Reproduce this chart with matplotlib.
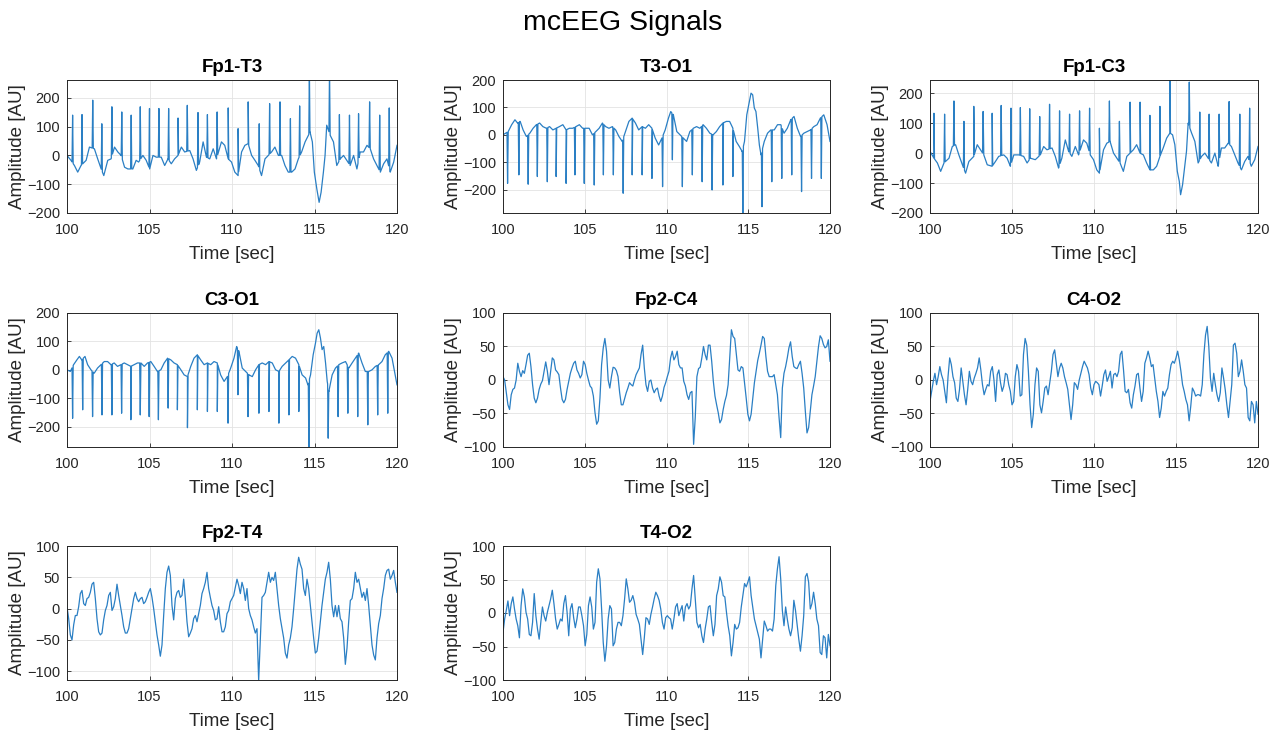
import numpy as np
import matplotlib
matplotlib.use("Agg")
import matplotlib.pyplot as plt

plt.rcParams['font.family'] = ['Liberation Sans', 'DejaVu Sans']

# ---------------- data ----------------
channels = ["Fp1-T3", "T3-O1", "Fp1-C3", "C3-O1", "Fp2-C4", "C4-O2", "Fp2-T4", "T4-O2"]
x_ticks = [100, 105, 110, 115, 120]

# Fp1-T3: slow baseline + sharp positive spikes
fp1t3_base_t = [100.00, 100.24, 100.45, 100.65, 100.85, 101.16, 101.36, 101.66, 101.86, 102.07,
                102.23, 102.47, 102.67, 102.88, 103.08, 103.28, 103.49, 103.69, 103.99, 104.19,
                104.34, 104.60, 104.80, 105.01, 105.21, 105.41, 105.71, 105.92, 106.12, 106.32,
                106.52, 106.73, 106.93, 107.13, 107.44, 107.64, 107.84, 108.04, 108.25, 108.45,
                108.65, 108.86, 109.06, 109.36, 109.56, 109.77, 109.97, 110.17, 110.37, 110.58,
                110.78, 110.98, 111.19, 111.39, 111.59, 111.79, 112.00, 112.20, 112.40, 112.60,
                112.81, 113.01, 113.21, 113.41, 113.62, 113.82, 114.02, 114.22, 114.43, 114.63,
                114.73, 114.87, 114.99, 115.14, 115.28, 115.40, 115.54, 115.64, 115.74, 115.95,
                116.15, 116.35, 116.56, 116.76, 116.96, 117.16, 117.37, 117.57, 117.77, 117.97,
                118.18, 118.38, 118.58, 118.78, 118.99, 119.19, 119.39, 119.59, 119.80, 120.00]
fp1t3_base_v = [0, -17, -35, -58, -35, -17, 29, 23, -12, -47,
                -70, -17, -12, 29, 12, 0, -41, -47, -47, -17,
                -23, 0, -17, -47, 0, -6, -6, -35, -12, -29,
                -12, 0, 29, 12, 17, -12, -52, -23, 47, -6,
                -12, 23, -12, 47, 35, -12, -23, -58, -70, 12,
                35, 41, 0, -17, -35, -70, -12, 0, 12, 29,
                0, 0, -35, -58, -58, -47, -12, 12, 47, 70,
                81, 47, -58, -116, -163, -128, -58, 0, 105, 70,
                47, -35, -12, 0, -17, -35, 0, -47, 12, 12,
                35, 23, -12, -35, -58, -29, -12, -58, -23, 35]
fp1t3_spk_t = [100.34, 100.91, 101.56, 102.11, 102.72, 103.32, 103.89, 104.44, 105.00, 105.57,
               106.16, 106.73, 107.29, 107.94, 108.51, 109.10, 109.77, 110.37, 110.98, 111.65,
               112.28, 112.91, 113.54, 114.10, 114.69, 115.91, 116.51, 117.12, 117.67, 118.34,
               118.95, 119.53]
fp1t3_spk_v = [140, 142, 192, 110, 169, 151, 140, 169, 163, 163,
               163, 130, 174, 149, 142, 151, 165, 93, 186, 110,
               180, 186, 128, 172, 300, 300, 142, 140, 145, 186,
               140, 165]

# T3-O1: baseline + sharp negative spikes
t3o1_base_t = [100.00, 100.16, 100.32, 100.53, 100.73, 100.89, 101.05, 101.23, 101.43, 101.64,
               101.84, 102.04, 102.24, 102.44, 102.65, 102.85, 103.05, 103.25, 103.45, 103.66,
               103.86, 104.06, 104.26, 104.46, 104.67, 104.87, 105.07, 105.27, 105.47, 105.68,
               105.88, 106.08, 106.28, 106.48, 106.69, 106.89, 107.09, 107.29, 107.49, 107.70,
               107.90, 108.10, 108.30, 108.51, 108.71, 108.91, 109.11, 109.31, 109.52, 109.72,
               109.92, 110.12, 110.26, 110.42, 110.63, 110.83, 111.03, 111.23, 111.43, 111.64,
               111.84, 112.04, 112.24, 112.44, 112.65, 112.85, 113.05, 113.25, 113.45, 113.66,
               113.86, 114.06, 114.26, 114.46, 114.63, 114.77, 114.91, 115.03, 115.17, 115.27,
               115.37, 115.47, 115.58, 115.68, 115.78, 115.98, 116.18, 116.38, 116.59, 116.79,
               116.99, 117.19, 117.39, 117.60, 117.80, 118.00, 118.20, 118.40, 118.61, 118.81,
               119.01, 119.21, 119.41, 119.62, 119.82, 120.00]
t3o1_base_v = [0, 6, 12, 37, 55, 43, 49, 18, -6, 6,
               24, 37, 43, 30, 24, 30, 18, 24, 30, 37,
               18, 24, 24, 30, 37, 24, 24, 24, 0, 12,
               24, 43, 30, 24, 30, 18, -6, -24, 12, 49,
               61, 43, 18, 30, 24, 37, 24, -12, -37, -12,
               18, 61, 85, 73, 12, 0, -12, -24, 12, 24,
               30, 24, 37, 24, 6, 0, 12, 30, 43, 49,
               49, 24, -24, -43, -61, -24, 73, 110, 152, 146,
               98, 85, 24, -37, -73, -24, 6, 18, 18, 37,
               37, 6, 24, 55, 67, 24, -6, 6, 12, 18,
               30, 37, 61, 73, 37, -24]
t3o1_spk_t = [100.28, 100.97, 101.54, 102.10, 102.71, 103.25, 103.86, 104.40, 104.97, 105.58,
              106.14, 106.75, 107.35, 107.90, 108.51, 109.11, 109.76, 110.36, 110.97, 111.58,
              112.18, 112.79, 113.45, 114.06, 114.67, 115.84, 116.44, 117.05, 117.66, 118.26,
              118.87, 119.47]
t3o1_spk_v = [-177, -146, -180, -152, -171, -152, -177, -146, -177, -183,
              -146, -146, -213, -146, -146, -159, -189, -91, -189, -146,
              -171, -201, -183, -152, -300, -262, -171, -159, -146, -207,
              -159, -159]

# Fp1-C3
fp1c3_base_t = [100.00, 100.24, 100.45, 100.65, 100.85, 101.16, 101.36, 101.56, 101.76, 101.97,
                102.17, 102.37, 102.67, 102.88, 103.08, 103.28, 103.49, 103.79, 103.99, 104.19,
                104.50, 104.70, 104.90, 105.11, 105.41, 105.71, 105.92, 106.12, 106.42, 106.73,
                106.93, 107.13, 107.44, 107.64, 107.84, 108.04, 108.25, 108.45, 108.65, 108.86,
                109.06, 109.36, 109.56, 109.77, 109.97, 110.17, 110.33, 110.58, 110.78, 110.98,
                111.19, 111.39, 111.59, 111.79, 112.00, 112.20, 112.40, 112.60, 112.81, 113.01,
                113.21, 113.41, 113.62, 113.82, 114.02, 114.22, 114.43, 114.63, 114.79, 114.93,
                115.08, 115.20, 115.28, 115.40, 115.54, 115.64, 115.74, 115.95, 116.15, 116.35,
                116.56, 116.76, 116.96, 117.16, 117.37, 117.57, 117.77, 117.97, 118.18, 118.38,
                118.58, 118.78, 118.99, 119.19, 119.39, 119.59, 119.80, 120.00]
fp1c3_base_v = [6, -17, -33, -61, -33, -17, 22, 28, -6, -39,
                -67, -28, -11, 28, 11, -6, -39, -44, -28, -11,
                -6, -17, -44, -6, -6, -11, -33, -17, -22, -6,
                22, 11, 17, -11, -50, -17, 44, 6, -11, 22,
                -6, 44, 33, -6, -22, -56, -67, 11, 33, 39,
                0, -17, -33, -61, -11, 0, 11, 28, 0, -6,
                -33, -56, -56, -44, -11, 17, 50, 67, 61, 28,
                -61, -94, -139, -106, -39, 6, 100, 67, 39, -33,
                -11, 0, -17, -33, 0, -44, 17, 17, 33, 22,
                -6, -33, -56, -28, -11, -44, -22, 22]
fp1c3_spk_t = [100.24, 100.89, 101.46, 102.07, 102.67, 103.24, 103.79, 104.34, 104.94, 105.51,
               106.08, 106.69, 107.29, 107.90, 108.51, 109.12, 109.73, 110.33, 110.94, 111.55,
               112.20, 112.81, 113.41, 114.02, 114.63, 115.81, 116.45, 117.02, 117.63, 118.24,
               118.89, 119.49]
fp1c3_spk_v = [133, 130, 174, 106, 156, 139, 133, 159, 150, 152,
               148, 122, 163, 141, 130, 141, 150, 83, 174, 106,
               170, 170, 126, 156, 280, 237, 137, 130, 130, 172,
               130, 150]

# C3-O1
c3o1_base_t = [100.00, 100.20, 100.40, 100.60, 100.75, 100.89, 101.09, 101.25, 101.45, 101.65,
               101.85, 102.06, 102.26, 102.46, 102.66, 102.86, 103.06, 103.27, 103.47, 103.67,
               103.87, 104.07, 104.27, 104.48, 104.68, 104.88, 105.08, 105.28, 105.48, 105.69,
               105.89, 106.09, 106.29, 106.49, 106.69, 106.90, 107.10, 107.30, 107.50, 107.70,
               107.90, 108.10, 108.31, 108.51, 108.71, 108.91, 109.11, 109.31, 109.52, 109.72,
               109.92, 110.12, 110.28, 110.42, 110.62, 110.83, 111.03, 111.23, 111.43, 111.63,
               111.83, 112.04, 112.24, 112.44, 112.64, 112.84, 113.04, 113.25, 113.45, 113.65,
               113.85, 114.05, 114.25, 114.46, 114.60, 114.76, 114.92, 115.06, 115.16, 115.26,
               115.36, 115.46, 115.56, 115.67, 115.77, 115.87, 116.07, 116.27, 116.47, 116.67,
               116.88, 117.08, 117.28, 117.48, 117.68, 117.88, 118.08, 118.29, 118.49, 118.69,
               118.89, 119.09, 119.29, 119.50, 119.70, 120.00]
c3o1_base_v = [0, -6, 18, 35, 47, 35, 47, 18, 0, -12,
               6, 18, 29, 29, 18, 24, 12, 18, 24, 18,
               12, 18, 24, 24, 12, 24, 29, 12, -6, 0,
               24, 41, 35, 24, 18, 0, -18, -24, 12, 41,
               53, 35, 18, 24, 18, 29, 24, -18, -41, -24,
               6, 41, 82, 65, 6, -6, -18, -24, 0, 18,
               24, 18, 29, 24, 0, -6, 12, 24, 35, 47,
               41, 18, -18, -29, -53, -18, 53, 94, 129, 141,
               112, 71, 82, 24, -41, -76, -18, 6, 18, 24,
               29, 6, 24, 41, 59, 24, -6, -6, 0, 12,
               18, 29, 53, 65, 41, -53]
c3o1_spk_t = [100.34, 100.95, 101.55, 102.12, 102.72, 103.31, 103.87, 104.44, 104.98, 105.54,
              106.13, 106.69, 107.30, 107.90, 108.51, 109.11, 109.76, 110.36, 110.97, 111.63,
              112.24, 112.84, 113.45, 114.05, 114.66, 115.83, 116.43, 117.02, 117.62, 118.23,
              118.83, 119.44]
c3o1_spk_v = [-171, -141, -165, -159, -159, -153, -176, -159, -165, -176,
              -135, -141, -204, -141, -147, -147, -188, -88, -165, -153,
              -147, -188, -159, -147, -300, -241, -165, -153, -165, -194,
              -159, -153]

# Fp2-C4 (values every ~0.1 s from 100 to 120 s)
fp2c4_v = [5, 0, -19, -37, -44, -22, -14, -12, 0, 25,
           13, 5, 14, 10, 23, 37, 40, 20, -7, -27,
           -34, -27, -14, -6, -1, 13, 27, 13, -7, 13,
           33, 30, 15, 12, 8, -12, -29, -34, -29, -14,
           -2, 10, 18, 25, 28, 15, 10, 3, 8, 28,
           23, 10, 0, -9, -12, -24, -49, -66, -61, -27,
           23, 48, 62, 43, 0, -12, 5, 19, 18, 14,
           5, -19, -37, -37, -28, -19, -12, -4, -7, -9,
           0, 8, 13, 18, 38, 52, 18, -7, -17, -2,
           0, -12, -19, -14, -12, -24, -32, -24, -11, -4,
           5, 13, 33, 43, 30, 35, 43, 23, 18, 18,
           -2, -9, -22, -29, -19, -17, -96, -56, 5, 17,
           19, 33, 50, 38, 30, 52, 52, 28, -2, -24,
           -37, -49, -64, -59, -44, -32, -23, -7, 33, 75,
           65, 62, 38, 15, 13, 20, 18, -4, -27, -51,
           -61, -51, -27, -4, 13, 29, 40, 52, 65, 62,
           35, 13, 5, 5, 5, 8, -7, -22, -56, -86,
           -12, 10, 20, 33, 48, 57, 35, 20, 18, 17,
           23, 28, 10, -12, -47, -79, -71, -47, -22, -9,
           5, 28, 50, 66, 62, 53, 48, 50, 60, 28]

# C4-O2
c4o2_v = [-32, -17, -2, 10, -7, 5, 20, 8, 0, -17,
          -34, 5, 33, 23, 5, -4, -27, -32, -14, 18,
          -2, -22, -37, -14, 13, -2, -7, 3, 10, 18,
          33, 15, -7, -22, -14, -7, -9, 13, 20, 0,
          -32, 8, 15, -4, -17, -9, 10, 8, -7, -17,
          -37, -32, 5, 23, 13, -24, -22, 38, 62, 52,
          13, -37, -71, -51, -7, 18, 13, -37, -49, -32,
          -12, -9, -22, -4, 13, 38, 45, 25, 5, 18,
          25, 18, 5, -4, -14, -37, -59, -37, -4, -7,
          -14, 0, 10, 20, 28, 23, 18, 8, -12, -22,
          -7, -2, -4, -7, -24, -9, 8, 15, -2, 5,
          13, -12, 8, 10, 5, 13, 38, 43, 15, -17,
          -19, -14, -34, -42, -22, -9, 8, 10, -12, -32,
          -17, 25, 33, 43, 33, 20, 23, 3, -17, -32,
          -56, -42, -17, -24, -17, -12, 8, 23, 28, 25,
          33, 43, 30, 13, -7, -17, -29, -37, -61, -39,
          -12, -17, -24, -22, -22, -24, -7, 38, 67, 80,
          50, 3, -17, 10, -7, -22, -32, -19, 18, 3,
          -14, -37, -56, -32, -7, 52, 55, 40, 5, 13,
          30, 13, -7, -12, -56, -61, -32, -37, -64, -32,
          -51]

# Fp2-T4
fp2t4_v = [3, -16, -42, -50, -26, -11, -11, 3, 24, 29,
           8, 5, 16, 18, 26, 39, 42, 16, -16, -37,
           -42, -39, -18, -3, 5, 21, 26, -3, 3, 16,
           39, 21, 5, -11, -29, -39, -39, -32, -16, 0,
           16, 26, 16, 11, 16, 18, 8, 11, 18, 26,
           32, 18, 0, -21, -42, -58, -76, -58, -11, 32,
           58, 68, 53, 5, -18, 16, 26, 29, 18, 21,
           47, 16, -21, -45, -39, -32, -16, -11, -21, -8,
           5, 24, 32, 42, 58, 32, 18, 5, -3, -18,
           -16, 3, -21, -37, -37, -29, -8, -3, 11, 16,
           21, 34, 47, 37, 24, 42, 32, 13, 32, 0,
           -11, -18, -29, -39, -32, -115, -47, 18, 21, 26,
           42, 58, 42, 50, 45, 58, 32, 5, -16, -32,
           -47, -71, -79, -58, -47, -29, 0, 32, 63, 82,
           71, 63, 32, 21, 47, 32, 5, -21, -47, -71,
           -68, -47, -21, 5, 26, 47, 58, 74, 47, 5,
           -13, 5, -13, 5, -16, -21, -47, -89, -63, -21,
           13, 16, 32, 58, 42, 47, 32, 18, 26, 13,
           32, 5, -26, -58, -74, -82, -47, -24, -11, 16,
           32, 53, 61, 63, 47, 53, 61, 42, 26]

# T4-O2
t4o2_v = [-29, -9, 4, 18, -4, 14, 24, 6, -9, -19,
          -37, 11, 36, 24, 1, -9, -32, -34, -14, 29,
          -4, -24, -39, -14, 9, -4, -12, 1, 11, 21,
          34, 14, -9, -24, -17, -9, -12, 14, 26, 1,
          -34, 6, 14, -7, -22, -9, 9, 9, -4, -19,
          -49, -32, 11, 24, 9, -24, -14, 46, 66, 51,
          6, -44, -72, -49, -9, 11, 6, -49, -44, -24,
          -14, -14, -19, -4, 21, 51, 36, 16, 19, 26,
          16, -2, -9, -17, -39, -62, -37, -7, -9, -17,
          -2, 9, 21, 31, 26, 19, 6, -14, -24, -7,
          -4, -7, -9, -24, -9, 9, 14, -4, 4, 11,
          -12, 9, 14, 6, 11, 36, 56, 21, -14, -22,
          -17, -34, -44, -24, -9, 9, 11, -14, -34, -17,
          26, 36, 54, 46, 26, 24, 1, -19, -34, -64,
          -44, -17, -24, -22, -14, 9, 26, 44, 39, 46,
          54, 26, 9, -9, -19, -29, -39, -67, -39, -12,
          -19, -27, -24, -24, -27, -9, 41, 66, 84, 51,
          4, -19, 9, -9, -24, -34, -22, 19, 4, -17,
          -39, -57, -34, -4, 54, 59, 46, 6, 14, 31,
          14, -9, -19, -59, -62, -34, -37, -67, -32, -49]

# y-axis ranges and ticks per channel
y_limits = [(-200, 262), (-285, 200), (-200, 244), (-272, 200),
            (-100, 100), (-100, 100), (-114, 100), (-100, 100)]
y_ticks = [[-200, -100, 0, 100, 200]] * 4 + [[-100, -50, 0, 50, 100]] * 4


# ---------------- helpers ----------------
def spiky_trace(base_t, base_v, spk_t, spk_v, half_width=0.035):
    """Combine a slow baseline polyline with needle-like spikes."""
    base_t = np.asarray(base_t, float)
    base_v = np.asarray(base_v, float)
    t = list(base_t)
    v = list(base_v)
    for ts, vs in zip(spk_t, spk_v):
        t += [ts - half_width, ts, ts + half_width]
        v += [np.interp(ts - half_width, base_t, base_v), vs,
              np.interp(ts + half_width, base_t, base_v)]
    order = np.argsort(t, kind="stable")
    return np.asarray(t)[order], np.asarray(v)[order]


def regular_trace(values):
    values = np.asarray(values, float)
    return np.linspace(100, 120, len(values)), values


traces = [
    spiky_trace(fp1t3_base_t, fp1t3_base_v, fp1t3_spk_t, fp1t3_spk_v),
    spiky_trace(t3o1_base_t, t3o1_base_v, t3o1_spk_t, t3o1_spk_v),
    spiky_trace(fp1c3_base_t, fp1c3_base_v, fp1c3_spk_t, fp1c3_spk_v),
    spiky_trace(c3o1_base_t, c3o1_base_v, c3o1_spk_t, c3o1_spk_v),
    regular_trace(fp2c4_v),
    regular_trace(c4o2_v),
    regular_trace(fp2t4_v),
    regular_trace(t4o2_v),
]

# ---------------- figure ----------------
W, H = 1282, 731
fig = plt.figure(figsize=(W / 100, H / 100), dpi=100)

col_px = [(67, 397), (503, 830), (930, 1258)]
row_px = [(80, 213), (313, 447), (546, 680)]

axis_color = "#262626"
line_color = "#2a7fc4"

for i, (name, (t, v)) in enumerate(zip(channels, traces)):
    r, c = divmod(i, 3)
    x0, x1 = col_px[c]
    y0, y1 = row_px[r]
    ax = fig.add_axes([x0 / W, 1 - y1 / H, (x1 - x0) / W, (y1 - y0) / H])
    ax.plot(t, v, color=line_color, lw=0.9)
    ax.set_xlim(100, 120)
    ax.set_ylim(*y_limits[i])
    ax.set_xticks(x_ticks)
    ax.set_yticks(y_ticks[i])
    ax.grid(True, color="#e3e3e3", lw=0.6)
    ax.set_axisbelow(True)
    ax.tick_params(direction="in", length=3, width=0.6, colors=axis_color,
                   labelsize=10.5)
    ax.tick_params(axis="x", pad=7.5)
    ax.tick_params(axis="y", pad=5)
    for sp in ax.spines.values():
        sp.set_color(axis_color)
        sp.set_linewidth(0.7)
    ax.set_title(name, fontsize=13.5, fontweight="bold", color="black", pad=6)
    ax.set_xlabel("Time [sec]", fontsize=13.5, color=axis_color, labelpad=6)
    ax.set_ylabel("Amplitude [AU]", fontsize=13.5, color=axis_color, labelpad=1)

fig.text(623 / W, 1 - 23 / H, "mcEEG Signals", ha="center", va="center", fontsize=20.5)

fig.savefig("out.png", dpi=100, facecolor="white")
